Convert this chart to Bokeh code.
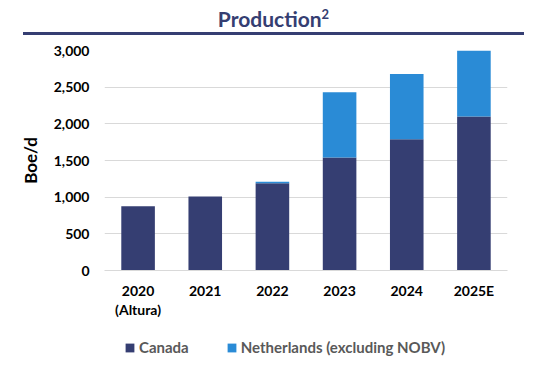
from bokeh.plotting import figure
from bokeh.models import (Range1d, NumeralTickFormatter, FixedTicker, Div,
                          Legend, LegendItem, CategoricalAxis, FactorRange)
from bokeh.layouts import column
from bokeh.embed import file_html
from bokeh.resources import INLINE

categories = ["2020", "2021", "2022", "2023", "2024", "2025E"]
category_sublabels = ["(Altura)", "", "", "", "", ""]
canada = [875, 1010, 1190, 1540, 1790, 2100]
netherlands = [0, 0, 20, 890, 890, 900]
series_names = ["Canada", "Netherlands (excluding NOBV)"]
y_ticks = [0, 500, 1000, 1500, 2000, 2500, 3000]

NAVY = "#353E72"
BLUE = "#2A8BD6"
colors = [NAVY, BLUE]

header = Div(
    text=('<div style="width:545px;height:35px;margin:0;padding:0;">'
          '<div style="margin:0;padding:8px 0 0 0;box-sizing:border-box;width:547px;height:32px;'
          'text-align:center;font-family:Lato;font-weight:bold;font-size:21px;'
          'line-height:21px;color:#353E72;white-space:nowrap;overflow:visible;">Production<sup style="font-size:13px;'
          'line-height:0;">2</sup></div>'
          '<div style="margin:0 0 0 23px;width:501px;height:3px;'
          'background:#353E72;"></div></div>'),
    width=545, height=35, margin=(0, 0, 0, 0))

p = figure(x_range=categories, y_range=Range1d(0, 3000),
           width=545, height=285, output_backend="svg", toolbar_location=None,
           min_border_left=104, min_border_right=38, min_border_top=15,
           min_border_bottom=50, margin=(0, 0, 0, 0))
p.outline_line_color = None

src = dict(cat=categories, Canada=canada, Netherlands=netherlands)
rs = p.vbar_stack(["Canada", "Netherlands"], x="cat", width=0.5, source=src,
                  color=colors, line_color=None)

p.xgrid.grid_line_color = None
p.ygrid.grid_line_color = "#D9D9D9"
p.ygrid.grid_line_width = 1

p.yaxis.ticker = FixedTicker(ticks=y_ticks)
p.yaxis.formatter = NumeralTickFormatter(format="0,0")
p.yaxis.axis_line_color = None
p.yaxis.major_tick_line_color = None
p.yaxis.minor_tick_line_color = None
p.yaxis.major_label_standoff = 9
p.yaxis.axis_label = "Boe/d"
p.yaxis.axis_label_text_font = "Lato"
p.yaxis.axis_label_text_font_style = "bold"
p.yaxis.axis_label_text_font_size = "17px"
p.yaxis.axis_label_text_color = "#000000"
p.yaxis.axis_label_standoff = 10

p.xaxis.axis_line_color = "#D9D9D9"
p.xaxis.major_tick_line_color = None
p.xaxis.minor_tick_line_color = None
p.xaxis.major_label_standoff = 5

# second row of category labels on its own (aligned) factor range
sub_factors = [s if s else " " * (i + 1) for i, s in enumerate(category_sublabels)]
p.extra_x_ranges = {"sub": FactorRange(factors=sub_factors)}
sub_axis = CategoricalAxis(x_range_name="sub")
sub_axis.axis_line_color = None
sub_axis.major_tick_line_color = None
sub_axis.minor_tick_line_color = None
sub_axis.major_label_standoff = -7
p.add_layout(sub_axis, "below")

for ax in (p.xaxis[0], sub_axis, p.yaxis[0]):
    ax.major_label_text_font = "Lato"
    ax.major_label_text_font_style = "bold"
    ax.major_label_text_font_size = "14px"
    ax.major_label_text_color = "#000000"

# legend strip below the chart (same series, hidden renderers feed the legend)
lg = figure(width=545, height=51, output_backend="svg", toolbar_location=None,
            x_range=FactorRange(factors=categories), y_range=Range1d(0, 3000),
            x_axis_location=None, y_axis_location=None, min_border=0,
            margin=(0, 0, 0, 0))
lg.outline_line_color = None
lg.grid.grid_line_color = None
lrs = lg.vbar_stack(["Canada", "Netherlands"], x="cat", width=0.5, source=src,
                    color=colors, line_color=None)
items = []
for name, r in zip(series_names, lrs):
    r.visible = False
    items.append(LegendItem(label=name, renderers=[r]))
legend = Legend(items=items, orientation="horizontal", location=(20, 15))
legend.label_text_font = "Lato"
legend.label_text_font_style = "bold"
legend.label_text_font_size = "15px"
legend.label_text_color = "#595959"
legend.label_height = 17
legend.glyph_width = 11
legend.glyph_height = 11
legend.label_standoff = 4
legend.spacing = 37
legend.padding = 0
legend.margin = 0
legend.inactive_fill_alpha = 0
legend.border_line_color = None
legend.background_fill_alpha = 0
lg.add_layout(legend)

layout = column(header, p, lg, spacing=0)
open("out.html", "w").write(file_html(layout, INLINE))
